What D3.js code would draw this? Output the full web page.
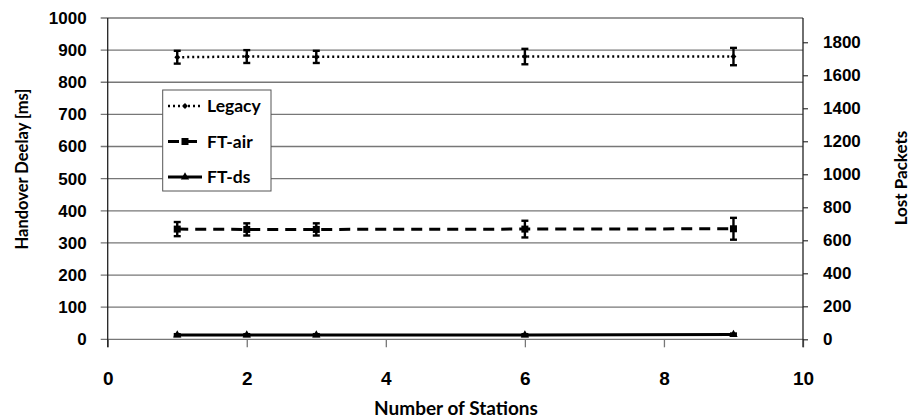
<!DOCTYPE html>
<html>
<head>
<meta charset="utf-8">
<script src="https://cdn.jsdelivr.net/npm/d3@7"></script>
<style>
  body { margin: 0; background: #fff; }
  svg { display: block; font-family: Lato, "Open Sans", sans-serif; font-weight: 700; }
</style>
</head>
<body>
<svg id="chart"></svg>
<script>
const width = 914;
const height = 419;

// data
const stations = [1, 2, 3, 6, 9];
const legacyDelay = [878, 880, 879, 880, 880];
const legacyErr = [20, 20, 19, 24, 27];
const ftAirDelay = [343, 342, 342, 343, 344];
const ftAirErr = [22, 19, 19, 26, 34];
const ftDsDelay = [13, 13, 13, 13, 15];
const ftDsErr = [3, 3, 3, 3, 3];

const xTicks = [0, 2, 4, 6, 8, 10];
const leftTicks = [0, 100, 200, 300, 400, 500, 600, 700, 800, 900, 1000];
const rightTicks = [0, 200, 400, 600, 800, 1000, 1200, 1400, 1600, 1800];

const series = [
  { name: 'Legacy', values: legacyDelay, err: legacyErr, dash: '2,3', marker: 'diamond' },
  { name: 'FT-air', values: ftAirDelay, err: ftAirErr, dash: '11,7', marker: 'square' },
  { name: 'FT-ds', values: ftDsDelay, err: ftDsErr, dash: null, marker: 'triangle' }
];

const margin = { left: 107.7, right: 111, top: 18, bottom: 79.7 };
const fmt = d3.format('d');

const svg = d3.select('#chart')
  .attr('width', width)
  .attr('height', height);

const x = d3.scaleLinear().domain([0, 10]).range([margin.left, width - margin.right]);
const yL = d3.scaleLinear().domain([0, 1000]).range([height - margin.bottom, margin.top]);
const yR = d3.scaleLinear().domain([0, 1947]).range([height - margin.bottom, margin.top]);

// gridlines
svg.append('g')
  .selectAll('line')
  .data(leftTicks)
  .enter()
  .append('line')
  .attr('x1', x(0) - 7)
  .attr('x2', x(10))
  .attr('y1', d => yL(d))
  .attr('y2', d => yL(d))
  .attr('stroke', '#777')
  .attr('stroke-width', 1.3);

// x axis
const xAxis = svg.append('g')
  .attr('transform', `translate(0,${yL(0)})`)
  .call(d3.axisBottom(x).tickValues(xTicks).tickFormat(fmt).tickSize(8).tickPadding(24).tickSizeOuter(0));
xAxis.select('.domain').remove();
xAxis.selectAll('line').attr('stroke', '#777').attr('stroke-width', 1.3);
xAxis.selectAll('text').attr('font-size', 19).attr('fill', '#000');

// left axis
const leftAxis = svg.append('g')
  .attr('transform', `translate(${x(0)},0)`)
  .call(d3.axisLeft(yL).tickValues(leftTicks).tickFormat(fmt).tickSize(0).tickPadding(21).tickSizeOuter(0));
leftAxis.select('.domain').remove();
leftAxis.selectAll('text').attr('font-size', 17).attr('fill', '#000');
svg.append('line')
  .attr('x1', x(0)).attr('x2', x(0))
  .attr('y1', yL(1000)).attr('y2', yL(0) + 8)
  .attr('stroke', '#222').attr('stroke-width', 1.3);

// right axis
const rightAxis = svg.append('g')
  .attr('transform', `translate(${x(10)},0)`)
  .call(d3.axisRight(yR).tickValues(rightTicks).tickFormat(fmt).tickSize(5).tickPadding(15).tickSizeOuter(0));
rightAxis.select('.domain').remove();
rightAxis.selectAll('line').attr('stroke', '#333').attr('stroke-width', 1.2);
rightAxis.selectAll('text').attr('font-size', 17).attr('fill', '#000');
svg.append('line')
  .attr('x1', x(10)).attr('x2', x(10))
  .attr('y1', yL(1000)).attr('y2', yL(0) + 8)
  .attr('stroke', '#222').attr('stroke-width', 1.3);

// axis titles
svg.append('text')
  .attr('x', 456)
  .attr('y', 415)
  .attr('text-anchor', 'middle')
  .attr('font-size', 19)
  .text('Number of Stations');

svg.append('text')
  .attr('transform', 'translate(28,169) rotate(-90)')
  .attr('text-anchor', 'middle')
  .attr('font-size', 16.5)
  .text('Handover Deelay [ms]');

svg.append('text')
  .attr('transform', 'translate(907,178) rotate(-90)')
  .attr('text-anchor', 'middle')
  .attr('font-size', 17)
  .text('Lost Packets');

function drawMarker(g, type, cx, cy) {
  if (type === 'diamond') {
    g.append('path')
      .attr('d', d3.symbol(d3.symbolDiamond2, 22)())
      .attr('transform', `translate(${cx},${cy})`)
      .attr('fill', '#000');
  } else if (type === 'square') {
    g.append('rect')
      .attr('x', cx - 3.5).attr('y', cy - 3.5)
      .attr('width', 7).attr('height', 7)
      .attr('fill', '#000');
  } else {
    g.append('path')
      .attr('d', d3.symbol(d3.symbolTriangle, 30)())
      .attr('transform', `translate(${cx},${cy})`)
      .attr('fill', '#000');
  }
}

const line = d3.line()
  .x(d => x(d[0]))
  .y(d => yL(d[1]));

const plot = svg.append('g');

series.forEach(function(s) {
  const pts = stations.map((st, i) => [st, s.values[i], s.err[i]]);

  plot.append('path')
    .attr('d', line(pts))
    .attr('fill', 'none')
    .attr('stroke', '#000')
    .attr('stroke-width', s.dash === '2,3' ? 2.5 : 3)
    .attr('stroke-dasharray', s.dash);

  const eb = plot.append('g')
    .attr('stroke', '#000')
    .attr('stroke-width', 2.4);
  pts.forEach(function(p) {
    const cx = x(p[0]);
    const top = yL(p[1] + p[2]);
    const bot = yL(p[1] - p[2]);
    eb.append('line').attr('x1', cx).attr('x2', cx).attr('y1', top).attr('y2', bot);
    eb.append('line').attr('x1', cx - 3.5).attr('x2', cx + 3.5).attr('y1', top).attr('y2', top);
    eb.append('line').attr('x1', cx - 3.5).attr('x2', cx + 3.5).attr('y1', bot).attr('y2', bot);
  });

  pts.forEach(p => drawMarker(plot, s.marker, x(p[0]), yL(p[1])));
});

// legend
const legend = svg.append('g');
legend.append('rect')
  .attr('x', 162.7).attr('y', 90)
  .attr('width', 108.3).attr('height', 101)
  .attr('fill', '#fff')
  .attr('stroke', '#555')
  .attr('stroke-width', 1);

series.forEach(function(s, i) {
  const ly = 106 + i * 35.5;
  legend.append('line')
    .attr('x1', 168).attr('x2', 202)
    .attr('y1', ly).attr('y2', ly)
    .attr('stroke', '#000')
    .attr('stroke-width', s.dash === '2,3' ? 2.5 : 3)
    .attr('stroke-dasharray', s.dash);
  drawMarker(legend, s.marker, 185, ly);
  legend.append('text')
    .attr('x', 207)
    .attr('y', ly)
    .attr('dy', '0.35em')
    .attr('font-size', 17.5)
    .text(s.name);
});
</script>
</body>
</html>
